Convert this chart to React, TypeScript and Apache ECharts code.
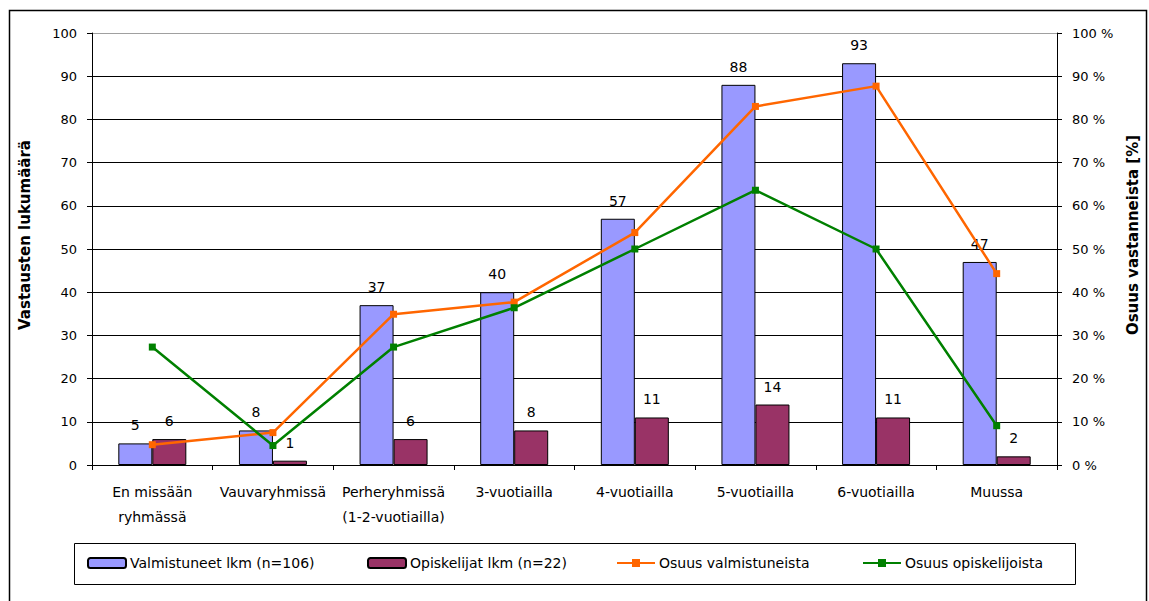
import React, { useEffect, useRef } from "react";
import * as echarts from "echarts";

const categories = [
  "En missään\nryhmässä",
  "Vauvaryhmissä",
  "Perheryhmissä\n(1-2-vuotiailla)",
  "3-vuotiailla",
  "4-vuotiailla",
  "5-vuotiailla",
  "6-vuotiailla",
  "Muussa",
];
const valmistuneetLkm = [5, 8, 37, 40, 57, 88, 93, 47];
const opiskelijatLkm = [6, 1, 6, 8, 11, 14, 11, 2];
const osuusValmistuneista = [4.7, 7.5, 34.9, 37.7, 53.8, 83.0, 87.7, 44.3];
const osuusOpiskelijoista = [27.3, 4.5, 27.3, 36.4, 50.0, 63.6, 50.0, 9.1];
const seriesNames = [
  "Valmistuneet lkm (n=106)",
  "Opiskelijat lkm (n=22)",
  "Osuus valmistuneista",
  "Osuus opiskelijoista",
];

const FONT = "'DejaVu Sans', Verdana, sans-serif";

export default function App() {
  const ref = useRef<HTMLDivElement>(null);
  useEffect(() => {
    document.body.style.margin = "0";
    const chart = echarts.init(ref.current!, null, { renderer: "svg" });
    const splitColors = Array.from({ length: 11 }, (_, i) => (i === 10 ? "#a0a0a0" : "#000"));
    const legendLefts = [87, 367, 616, 862];
    const labelStyle = { show: true, position: "top", distance: 11, fontFamily: FONT, fontSize: 14, color: "#000" };
    chart.setOption({
      animation: false,
      textStyle: { fontFamily: FONT, color: "#000" },
      graphic: [
        {
          type: "rect",
          shape: { x: 9.5, y: 10.5, width: 1137, height: 610 },
          style: { fill: "none", stroke: "#000", lineWidth: 1.5 },
          z: 0,
        },
        {
          type: "rect",
          shape: { x: 74.5, y: 543.5, width: 1001, height: 41 },
          style: { fill: "none", stroke: "#000", lineWidth: 1 },
          z: 0,
        },
      ],
      legend: seriesNames.map((n, i) => ({
        data: [n],
        left: legendLefts[i],
        top: 556,
        padding: 0,
        itemWidth: 38,
        itemHeight: 10,
        itemGap: 5,
        selectedMode: false,
        textStyle: { fontFamily: FONT, fontSize: 14, color: "#000", padding: [0, 0, 0, -1] },
      })),
      grid: { left: 92, right: 92, top: 33, height: 432, containLabel: false },
      xAxis: {
        type: "category",
        data: categories,
        axisLine: { lineStyle: { color: "#000", width: 1 } },
        axisTick: { show: true, length: 5, lineStyle: { color: "#000" }, alignWithLabel: false },
        axisLabel: { fontFamily: FONT, fontSize: 14, color: "#000", margin: 14, lineHeight: 25, interval: 0 },
      },
      yAxis: [
        {
          type: "value",
          min: 0,
          max: 100,
          interval: 10,
          name: "Vastausten lukumäärä",
          nameLocation: "middle",
          nameRotate: 90,
          nameGap: 60,
          nameTextStyle: { fontFamily: FONT, fontSize: 15, fontWeight: "bold", color: "#000", padding: [0, 0, 0, 28] },
          axisLine: { show: true, lineStyle: { color: "#000", width: 1 } },
          axisTick: { show: true, length: 5, lineStyle: { color: "#000" } },
          axisLabel: { fontFamily: FONT, fontSize: 13, color: "#000", margin: 15 },
          splitLine: { show: true, lineStyle: { color: splitColors, width: 1 } },
        },
        {
          type: "value",
          min: 0,
          max: 100,
          interval: 10,
          position: "right",
          name: "Osuus vastanneista [%]",
          nameLocation: "middle",
          nameRotate: 90,
          nameGap: 68,
          nameTextStyle: { fontFamily: FONT, fontSize: 15, fontWeight: "bold", color: "#000", padding: [0, 0, 0, 28] },
          axisLine: { show: true, lineStyle: { color: "#000", width: 1 } },
          axisTick: { show: true, length: 5, lineStyle: { color: "#000" } },
          axisLabel: { fontFamily: FONT, fontSize: 13, color: "#000", margin: 15, formatter: "{value} %" },
          splitLine: { show: false },
        },
      ],
      series: [
        {
          name: seriesNames[0],
          type: "bar",
          data: valmistuneetLkm,
          barWidth: 34,
          barGap: "0%",
          itemStyle: { color: "#9999FF", borderColor: "#000", borderWidth: 1 },
          label: labelStyle,
        },
        {
          name: seriesNames[1],
          type: "bar",
          data: opiskelijatLkm,
          barWidth: 34,
          barGap: "0%",
          itemStyle: { color: "#993366", borderColor: "#000", borderWidth: 1 },
          label: labelStyle,
        },
        {
          name: seriesNames[2],
          type: "line",
          yAxisIndex: 1,
          data: osuusValmistuneista,
          symbol: "rect",
          symbolSize: 7,
          lineStyle: { color: "#FF6600", width: 2.5 },
          itemStyle: { color: "#FF6600" },
          z: 5,
        },
        {
          name: seriesNames[3],
          type: "line",
          yAxisIndex: 1,
          data: osuusOpiskelijoista,
          symbol: "rect",
          symbolSize: 7,
          lineStyle: { color: "#008000", width: 2.5 },
          itemStyle: { color: "#008000" },
          z: 5,
        },
      ],
    });
    return () => chart.dispose();
  }, []);
  return <div ref={ref} style={{ width: 1149, height: 601 }} />;
}
